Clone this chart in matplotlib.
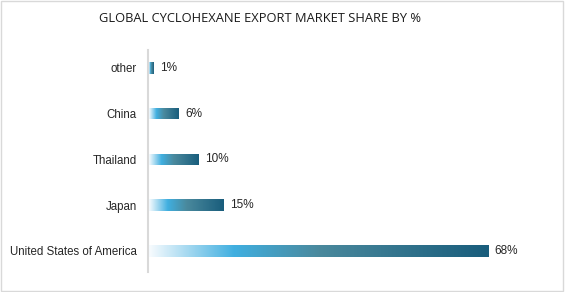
import numpy as np
import matplotlib.pyplot as plt
from matplotlib.colors import LinearSegmentedColormap
from matplotlib.patches import Rectangle

countries = ["United States of America", "Japan", "Thailand", "China", "other"]
shares = [68, 15, 10, 6, 1]

plt.rcParams["font.family"] = ["Liberation Sans", "DejaVu Sans"]

grad = LinearSegmentedColormap.from_list(
    "bar_grad",
    [(0.0, "#f7fbfe"), (0.25, "#40afe0"), (0.5, "#4a899d"), (1.0, "#195d7c")])

fig = plt.figure(figsize=(5.65, 2.92), dpi=100)
fig.patches.append(Rectangle((0.002, 0.003), 0.995, 0.993, transform=fig.transFigure,
                             fill=False, edgecolor="#d9d9d9", linewidth=1))
ax = fig.add_axes([148 / 565, 1 - 272 / 292, 392 / 565, 222 / 292])

y = np.arange(len(countries))
bars = ax.barh(y, shares, height=0.25, left=0.3, color="none", edgecolor="none")
ramp = np.linspace(0, 1, 256).reshape(1, -1)
for bar, v in zip(bars, shares):
    y0 = bar.get_y()
    x0 = bar.get_x()
    im = ax.imshow(ramp, cmap=grad, aspect="auto", interpolation="bilinear",
                   extent=(x0, x0 + v, y0, y0 + bar.get_height()), zorder=2)
    im.set_clip_path(bar)
    ax.text(x0 + v + 1.1, y0 + bar.get_height() / 2, f"{v}%",
            va="center", ha="left", fontsize=8.5, color="#262626")

ax.set_xlim(0, 78.6)
ax.set_ylim(-0.46, 4.39)
ax.set_yticks(y)
ax.set_yticklabels(countries, fontsize=8.3, color="#262626")
ax.tick_params(axis="y", length=0, pad=8)
ax.set_xticks([])
for side in ["top", "right", "bottom"]:
    ax.spines[side].set_visible(False)
ax.spines["left"].set_color("#d9d9d9")
ax.spines["left"].set_linewidth(1.5)

fig.text(0.46, 1 - 18 / 292, "GLOBAL CYCLOHEXANE EXPORT MARKET SHARE BY %",
         ha="center", va="center", fontsize=9.3, color="#1a1a1a",
         family=["Open Sans", "DejaVu Sans"])

fig.savefig("out.png", dpi=100)
